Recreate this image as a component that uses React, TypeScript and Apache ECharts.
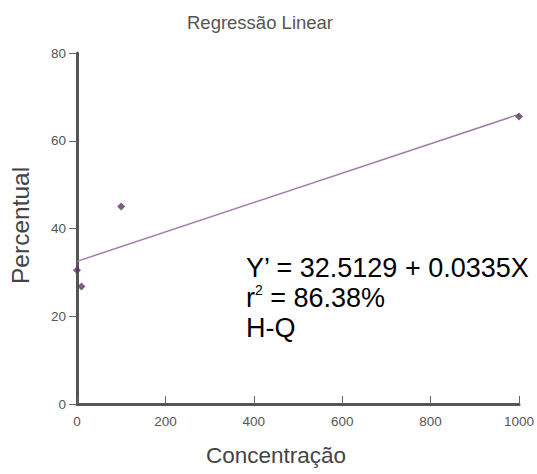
import React, { useEffect, useRef } from "react";
import * as echarts from "echarts";

const pointsX = [0, 10, 100, 1000];
const pointsY = [30.5, 26.8, 45.0, 65.5];
const intercept = 32.5129;
const slope = 0.0335;
const lineX = [0, 1000];
const xTicks = [0, 200, 400, 600, 800, 1000];
const yTicks = [0, 20, 40, 60, 80];

const FONT = "Liberation Sans, Arial, sans-serif";
const AXIS = "#555555";

export default function App() {
  const ref = useRef<HTMLDivElement>(null);
  useEffect(() => {
    if (!ref.current) return;
    const chart = echarts.init(ref.current, null, { renderer: "svg" });
    const labelStyle = { color: "#555", fontFamily: FONT, fontSize: 13.5, formatter: (v: number) => String(v) };
    chart.setOption({
      animation: false,
      title: {
        text: "Regressão Linear",
        left: 255,
        textAlign: "center",
        top: 8,
        textStyle: { color: "#555", fontSize: 18.5, fontWeight: "normal", fontFamily: FONT },
      },
      grid: { left: 77, right: 18, top: 53, bottom: 70 },
      xAxis: {
        type: "value",
        min: xTicks[0],
        max: xTicks[xTicks.length - 1],
        interval: 200,
        splitLine: { show: false },
        axisLine: { show: true, lineStyle: { color: AXIS, width: 3 } },
        axisTick: { show: true, inside: true, length: 8, lineStyle: { color: "#666" } },
        axisLabel: { ...labelStyle, margin: 10 },
      },
      yAxis: {
        type: "value",
        min: yTicks[0],
        max: yTicks[yTicks.length - 1],
        interval: 20,
        splitLine: { show: false },
        axisLine: { show: true, lineStyle: { color: AXIS, width: 3 } },
        axisTick: { show: true, inside: false, length: 8, lineStyle: { color: "#666" } },
        axisLabel: { ...labelStyle, margin: 11 },
      },
      graphic: [
        {
          type: "text",
          left: 206,
          top: 444,
          style: { text: "Concentração", fontSize: 22.5, fill: "#444", fontFamily: FONT },
        },
        {
          type: "text",
          x: 8,
          y: 284,
          rotation: Math.PI / 2,
          style: { text: "Percentual", fontSize: 24.5, fill: "#444", fontFamily: FONT },
        },
        {
          type: "text",
          left: 246,
          top: 253,
          style: {
            text: "Y’ = 32.5129 + 0.0335X\n{r|r}{sup|2}{r| = 86.38%}\nH-Q",
            fontSize: 27,
            lineHeight: 30,
            fill: "#000",
            fontFamily: FONT,
            rich: {
              r: { fontSize: 27, lineHeight: 30, fill: "#000", fontFamily: FONT },
              sup: { fontSize: 14, fill: "#000", verticalAlign: "top", padding: [0, 0, 12, 0], fontFamily: FONT },
            },
          },
        },
      ],
      series: [
        {
          type: "line",
          data: lineX.map((x) => [x, intercept + slope * x]),
          showSymbol: false,
          symbol: "none",
          lineStyle: { color: "#a57aad", width: 1.5 },
          z: 2,
        },
        {
          type: "scatter",
          data: pointsX.map((x, i) => [x, pointsY[i]]),
          symbol: "diamond",
          symbolSize: 8,
          itemStyle: { color: "#5b3560" },
          z: 3,
        },
      ],
    });
    return () => chart.dispose();
  }, []);
  return <div ref={ref} style={{ width: 537, height: 474, position: "absolute", left: 0, top: 0 }} />;
}
